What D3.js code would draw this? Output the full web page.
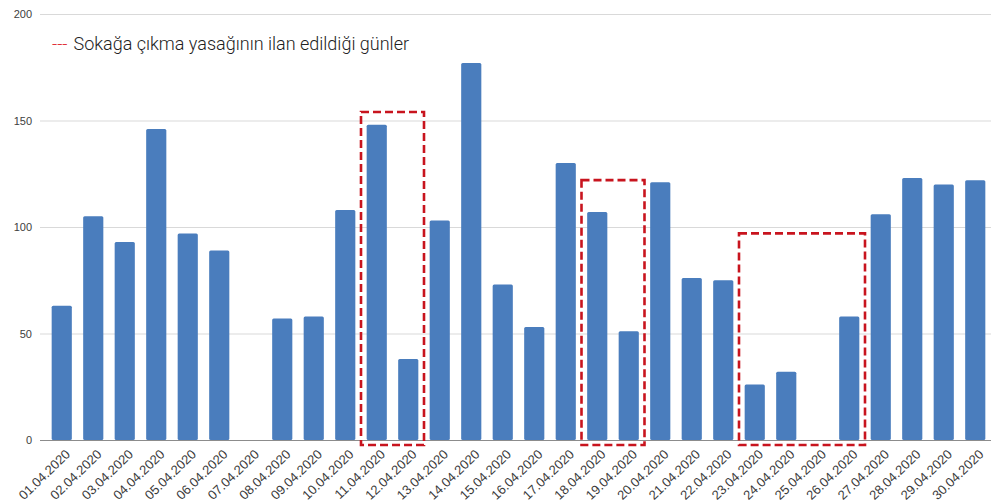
<!DOCTYPE html>
<html>
<head>
<meta charset="utf-8">
<script src="https://cdn.jsdelivr.net/npm/d3@7"></script>
<style>
  html, body { margin: 0; padding: 0; background: #fff; }
  svg { display: block; }
</style>
</head>
<body>
<svg id="chart" width="991" height="504"></svg>
<script>
// Daily counts, April 2020
const dates = [
  "01.04.2020","02.04.2020","03.04.2020","04.04.2020","05.04.2020","06.04.2020",
  "07.04.2020","08.04.2020","09.04.2020","10.04.2020","11.04.2020","12.04.2020",
  "13.04.2020","14.04.2020","15.04.2020","16.04.2020","17.04.2020","18.04.2020",
  "19.04.2020","20.04.2020","21.04.2020","22.04.2020","23.04.2020","24.04.2020",
  "25.04.2020","26.04.2020","27.04.2020","28.04.2020","29.04.2020","30.04.2020"
];
const counts = [
  63, 105, 93, 146, 97, 89,
  0, 57, 58, 108, 148, 38,
  103, 177, 73, 53, 130, 107,
  51, 121, 76, 75, 26, 32,
  0, 58, 106, 123, 120, 122
];
const yTicks = [0, 50, 100, 150, 200];

// Curfew periods: first day, last day, and the height of the outline
const curfewStart = ["11.04.2020", "18.04.2020", "23.04.2020"];
const curfewEnd   = ["12.04.2020", "19.04.2020", "26.04.2020"];
const curfewTop   = [154, 122, 97];

const legendText = "Sokağa çıkma yasağının ilan edildiği günler";

const svg = d3.select("#chart");
const margin = { left: 46, right: 0, top: 14, bottom: 64 };
const W = 991, H = 504;

const x = d3.scaleBand()
  .domain(dates)
  .range([margin.left, W - margin.right])
  .paddingInner(0.36)
  .paddingOuter(0.18);

const y = d3.scaleLinear()
  .domain([0, 200])
  .range([H - margin.bottom, margin.top]);

// Horizontal gridlines with value labels
const yAxis = d3.axisLeft(y).tickValues(yTicks).tickSize(-(W - 40)).tickPadding(8);
const gy = svg.append("g").attr("transform", "translate(40,0)").call(yAxis);
gy.select(".domain").remove();
gy.selectAll(".tick line").attr("stroke", "#d9d9d9").attr("stroke-width", 1);
gy.selectAll(".tick text")
  .attr("fill", "#404040")
  .style("font-family", "'Liberation Sans', Arial, sans-serif")
  .style("font-size", "11px");

// Bars
svg.append("g").selectAll("rect")
  .data(dates)
  .join("rect")
  .attr("x", d => x(d))
  .attr("width", x.bandwidth())
  .attr("y", (d, i) => y(counts[i]))
  .attr("height", (d, i) => y(0) - y(counts[i]))
  .attr("rx", 1.5)
  .attr("fill", "#4a7dbd");

// Baseline
svg.append("line")
  .attr("x1", 40).attr("x2", W)
  .attr("y1", y(0) + 0.5).attr("y2", y(0) + 0.5)
  .attr("stroke", "#8c8c8c").attr("stroke-width", 1.2);

// Date labels, rotated
const step = x.step();
const gx = svg.append("g");
gx.selectAll("text")
  .data(dates)
  .join("text")
  .attr("transform", d => `translate(${x(d) + x.bandwidth() / 2 + 6},${y(0) + 12}) rotate(-44)`)
  .attr("text-anchor", "end")
  .attr("dy", "0.35em")
  .attr("fill", "#3a3a3a")
  .style("font-family", "'Liberation Sans', Arial, sans-serif")
  .style("font-size", "13px")
  .text(d => d);

// Dashed outlines around curfew days
svg.append("g").selectAll("rect")
  .data(curfewStart)
  .join("rect")
  .attr("x", (d, i) => x(d) - (step - x.bandwidth()) / 2)
  .attr("width", (d, i) => x(curfewEnd[i]) + x.bandwidth() + (step - x.bandwidth()) / 2 - (x(d) - (step - x.bandwidth()) / 2))
  .attr("y", (d, i) => y(curfewTop[i]))
  .attr("height", (d, i) => y(0) + 5 - y(curfewTop[i]))
  .attr("fill", "none")
  .attr("stroke", "#c8141e")
  .attr("stroke-width", 2.6)
  .attr("stroke-dasharray", "8,4");

// Legend
const legend = svg.append("text")
  .attr("x", 52).attr("y", 50)
  .style("font-family", "Roboto, 'Liberation Sans', sans-serif")
  .style("font-weight", 300)
  .style("font-size", "18px");
legend.append("tspan").attr("fill", "#e0303a").text("---");
legend.append("tspan").attr("fill", "#222").attr("dx", 6).text(legendText);
</script>
</body>
</html>
